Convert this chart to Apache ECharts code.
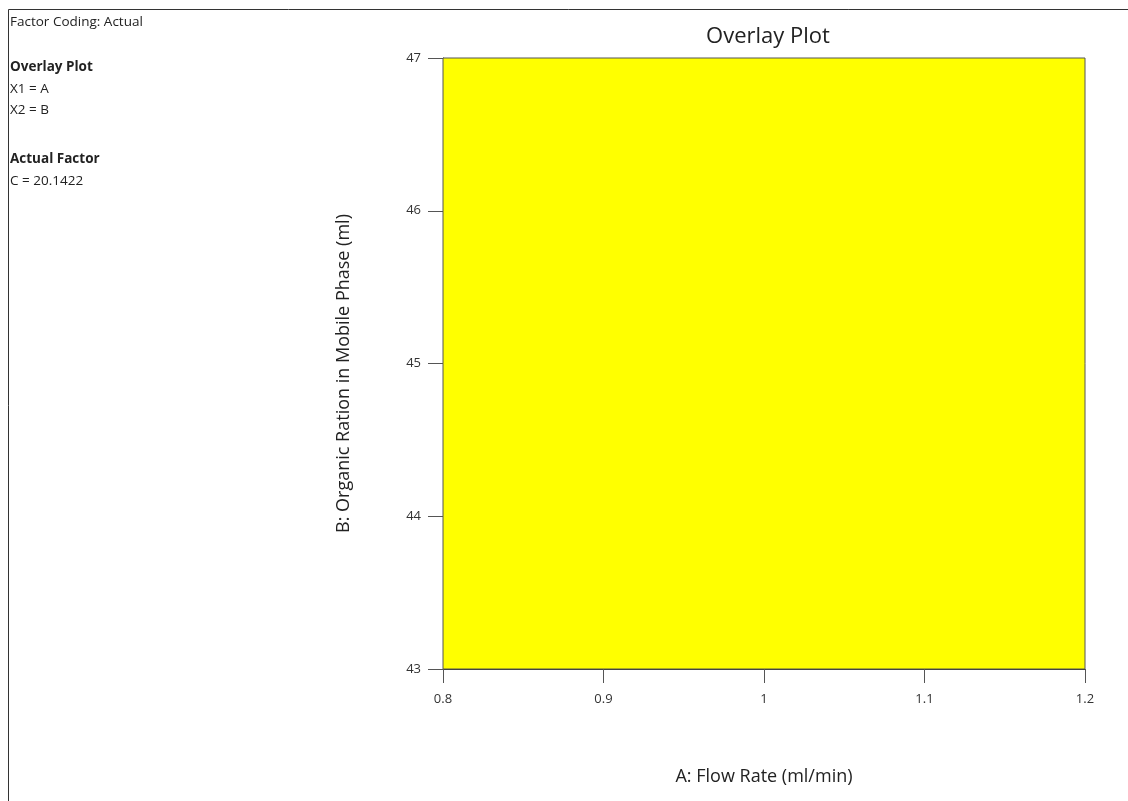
<!DOCTYPE html>
<html>
<head>
<meta charset="utf-8">
<script src="https://cdn.jsdelivr.net/npm/echarts@6/dist/echarts.min.js"></script>
<style>
  html, body { margin: 0; padding: 0; background: #fff; }
  #chart { width: 1128px; height: 801px; }
</style>
</head>
<body>
<div id="chart"></div>
<script>
// axis ranges
const xRange = [0.8, 1.2];
const xStep = 0.1;
const yRange = [43, 47];
const yStep = 1;

// feasible (overlay) region vertices: A, B
const regionA = [0.8, 0.8, 1.2, 1.2];
const regionB = [43, 47, 47, 43];

// side notes
const noteLines = [
  { text: "Factor Coding: Actual", bold: false, y: 24 },
  { text: "Overlay Plot", bold: true, y: 69 },
  { text: "X1 = A", bold: false, y: 91 },
  { text: "X2 = B", bold: false, y: 112 },
  { text: "Actual Factor", bold: true, y: 161 },
  { text: "C = 20.1422", bold: false, y: 183 },
];

const font = "'Open Sans', 'Noto Sans', sans-serif";
const chart = echarts.init(document.getElementById("chart"), null, { renderer: "canvas" });

const regionData = regionA.map((a, i) => [a, regionB[i]]);

const option = {
  animation: false,
  textStyle: { fontFamily: font },
  title: {
    text: "Overlay Plot",
    left: 763,
    top: 21,
    textAlign: "center",
    textStyle: { fontSize: 22, fontWeight: "normal", color: "#222", fontFamily: font },
  },
  grid: { left: 443, right: 43, top: 58, bottom: 132 },
  xAxis: {
    type: "value",
    min: xRange[0],
    max: xRange[1],
    interval: xStep,
    name: "A: Flow Rate (ml/min)",
    nameLocation: "middle",
    nameGap: 99,
    nameTextStyle: { fontSize: 18, color: "#222", fontFamily: font },
    axisLine: { lineStyle: { color: "#333" } },
    axisTick: { length: 14, lineStyle: { color: "#555" } },
    axisLabel: { margin: 24, fontSize: 13, color: "#333", fontFamily: font },
    splitLine: { show: false },
  },
  yAxis: {
    type: "value",
    min: yRange[0],
    max: yRange[1],
    interval: yStep,
    name: "B: Organic Ration in Mobile Phase (ml)",
    nameLocation: "middle",
    nameGap: 90,
    nameTextStyle: { fontSize: 18, color: "#222", fontFamily: font, padding: [0, 20, 0, 0] },
    axisLine: { show: true, lineStyle: { color: "#333" } },
    axisTick: { show: true, length: 15, lineStyle: { color: "#555" } },
    axisLabel: { margin: 22, fontSize: 13, color: "#333", fontFamily: font },
    splitLine: { show: false },
  },
  graphic: [
    {
      type: "rect",
      shape: { x: 8.5, y: 9.5, width: 1200, height: 900 },
      style: { fill: "none", stroke: "#333", lineWidth: 1 },
      silent: true,
    },
  ].concat(noteLines.map((n) => ({
    type: "text",
    left: 10,
    top: n.y - 9,
    style: {
      text: n.text,
      font: (n.bold ? "bold " : "") + "13.5px " + font,
      fill: "#222",
    },
    silent: true,
  }))),
  series: [
    {
      type: "custom",
      data: regionData,
      renderItem: (params, api) => {
        if (params.dataIndex !== 0) return null;
        const pts = regionData.map((d) => api.coord(d));
        return {
          type: "polygon",
          shape: { points: pts },
          style: { fill: "#FFFF00", stroke: "#555", lineWidth: 1 },
        };
      },
      z: 1,
    },
  ],
};

chart.setOption(option);
window.addEventListener("resize", () => chart.resize());
</script>
</body>
</html>
